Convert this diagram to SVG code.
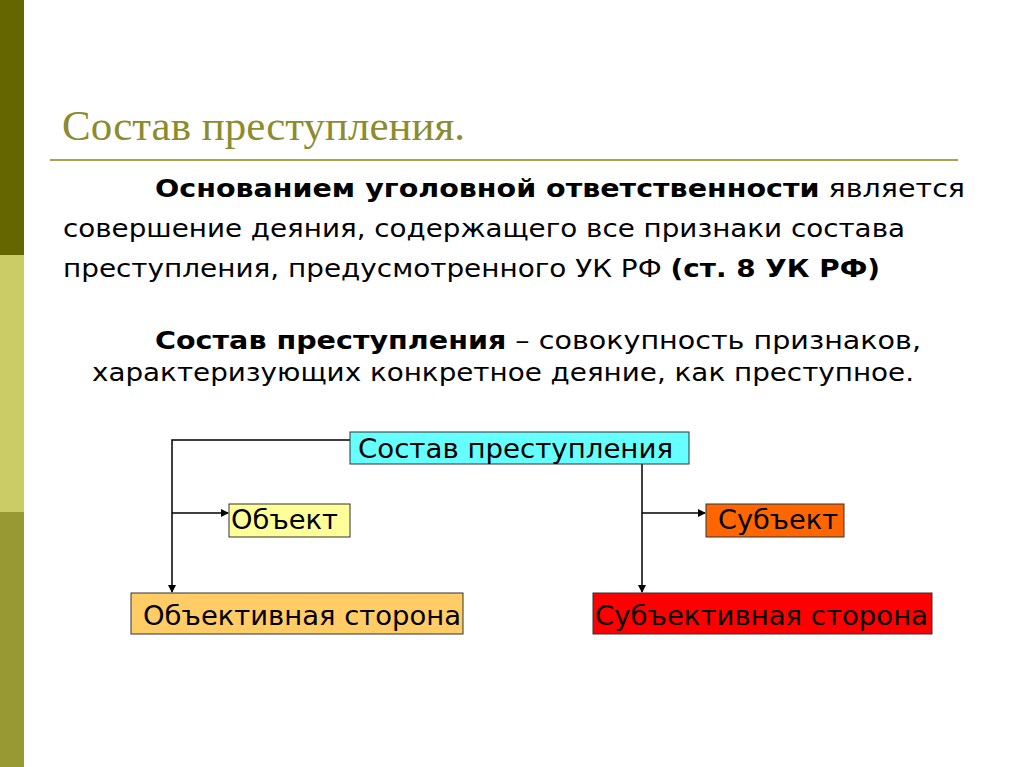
<svg xmlns="http://www.w3.org/2000/svg" width="1024" height="767" viewBox="0 0 1024 767">
<defs>
<marker id="ar" markerWidth="8" markerHeight="8" refX="7" refY="4" orient="auto" markerUnits="userSpaceOnUse"><path d="M0,0 L8,4 L0,8 z" fill="#000"/></marker>
<style>
.t{font-family:"DejaVu Sans",Verdana,sans-serif;font-size:25px;fill:#000}
.n{font-family:"DejaVu Sans",Verdana,sans-serif;font-size:26px;fill:#000}
.c{stroke:#000;stroke-width:1.5;fill:none}
.b{stroke:#333;stroke-width:1}
</style>
</defs>
<rect width="1024" height="767" fill="#fff"/>
<rect x="0" y="0" width="24" height="255" fill="#666600"/>
<rect x="0" y="255" width="24" height="257" fill="#cccc66"/>
<rect x="0" y="512" width="24" height="255" fill="#999933"/>
<text x="62" y="140" font-family="'Liberation Serif',serif" font-size="42" fill="#8c8c2e" textLength="403" lengthAdjust="spacingAndGlyphs">Состав преступления.</text>
<line x1="50" y1="160" x2="958" y2="160" stroke="#a5a550" stroke-width="2"/>
<text class="t" x="155" y="197" textLength="810" lengthAdjust="spacingAndGlyphs"><tspan font-weight="bold">Основанием уголовной ответственности</tspan> является</text>
<text class="t" x="63" y="237" textLength="842" lengthAdjust="spacingAndGlyphs">совершение деяния, содержащего все признаки состава</text>
<text class="t" x="63" y="277" textLength="817" lengthAdjust="spacingAndGlyphs">преступления, предусмотренного УК РФ <tspan font-weight="bold">(ст. 8 УК РФ)</tspan></text>
<text class="t" x="155" y="349" textLength="766" lengthAdjust="spacingAndGlyphs"><tspan font-weight="bold">Состав преступления</tspan> – совокупность признаков,</text>
<text class="t" x="92" y="381" textLength="822" lengthAdjust="spacingAndGlyphs">характеризующих конкретное деяние, как преступное.</text>
<g id="connectors">
<polyline class="c" points="350,440 172,440 172,592" marker-end="url(#ar)"/>
<line class="c" x1="172" y1="513" x2="228" y2="513" marker-end="url(#ar)"/>
<polyline class="c" points="642,464 642,592" marker-end="url(#ar)"/>
<line class="c" x1="642" y1="513" x2="705" y2="513" marker-end="url(#ar)"/>
</g>
<g id="n-sostav"><rect class="b" x="350" y="432" width="339" height="32" fill="#66ffff"/><text class="n" x="358" y="458" textLength="315" lengthAdjust="spacingAndGlyphs">Состав преступления</text></g>
<g id="n-obekt"><rect class="b" x="229" y="504" width="121" height="33" fill="#ffff99"/><text class="n" x="231" y="529" textLength="107" lengthAdjust="spacingAndGlyphs">Объект</text></g>
<g id="n-subekt"><rect class="b" x="706" y="504" width="138" height="33" fill="#ff6600"/><text class="n" x="718" y="529" textLength="120" lengthAdjust="spacingAndGlyphs">Субъект</text></g>
<g id="n-obst"><rect class="b" x="131" y="593" width="332" height="41" fill="#ffcc66"/><text class="n" x="143" y="625" textLength="318" lengthAdjust="spacingAndGlyphs">Объективная сторона</text></g>
<g id="n-subst"><rect class="b" x="593" y="593" width="339" height="41" fill="#ff0000"/><text class="n" x="595" y="625" textLength="333" lengthAdjust="spacingAndGlyphs">Субъективная сторона</text></g>
</svg>
